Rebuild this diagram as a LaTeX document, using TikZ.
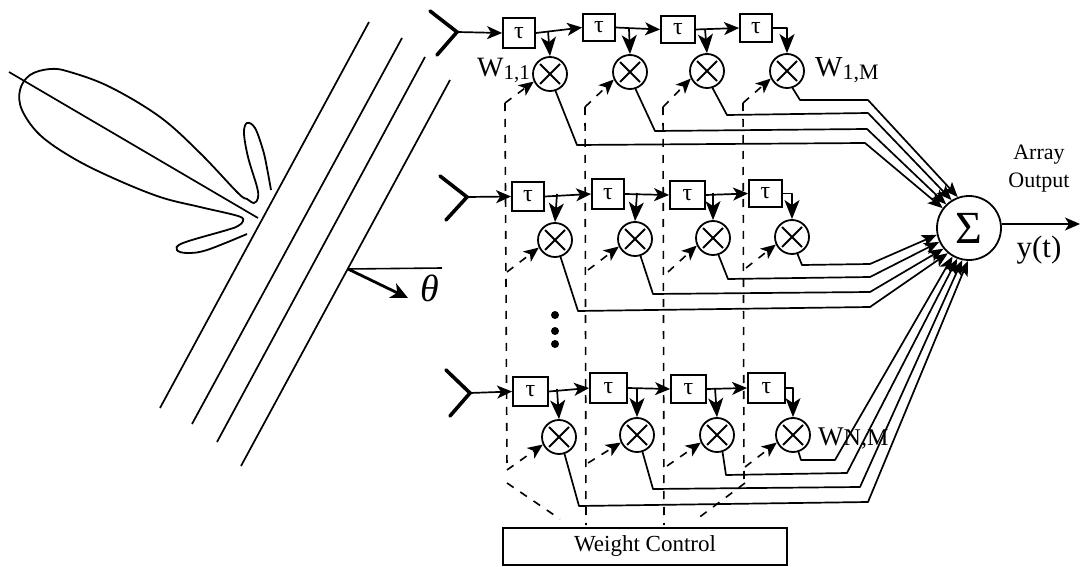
\documentclass[tikz,border=0pt]{standalone}
\usepackage{fontspec}
\setmainfont{Liberation Serif}
\usetikzlibrary{arrows.meta}
\newcommand{\fs}[1]{\fontsize{#1}{#1}\selectfont}
\tikzset{
  x=1pt,y=-1pt,
  wire/.style={line width=1.7pt,line join=round},
  sig/.style={wire,-{Stealth[length=15pt,width=13pt,inset=4pt]}},
  tap/.style={wire,-{Stealth[length=19pt,width=15pt,inset=5pt]}},
  tosum/.style={wire,-{Stealth[length=15pt,width=12pt,inset=3.5pt]}},
  ctrl/.style={line width=1.6pt,dash pattern=on 8pt off 8pt},
  ctrlarrow/.style={ctrl,-{Stealth[length=15pt,width=13pt,inset=4pt]}},
  delay/.style={draw,line width=1.8pt,fill=white,inner sep=0pt,font=\fs{24}},
  mult/.style={draw,circle,line width=1.8pt,minimum size=34pt,inner sep=0pt,
    path picture={\draw[line width=1.8pt]
      ([shift={(-10pt,-10pt)}]path picture bounding box.center)--([shift={(10pt,10pt)}]path picture bounding box.center)
      ([shift={(-10pt,10pt)}]path picture bounding box.center)--([shift={(10pt,-10pt)}]path picture bounding box.center);}},
  antenna/.style={line width=3.6pt,line cap=round,line join=miter},
  beam/.style={line width=1.7pt},
  lobe/.style={line width=1.8pt},
  lbl/.style={inner sep=0pt,anchor=base west},
}
\begin{document}
\begin{tikzpicture}
\useasboundingbox[fill=white] (0,0) rectangle (1080,567);
% beams
\foreach \n/\a/\b/\c/\d in {1/369/22/160/408,2/402/38/192/424,3/425/57/217/442,4/450/80/241/466}{
  \coordinate (lt\n) at (\a,\b); \coordinate (lb\n) at (\c,\d);
  \draw[beam] (lt\n) -- (lb\n);
}
% lobes
\draw[lobe] plot[smooth,tension=0.6] coordinates {(271,190)(267,168)(263,150)(255,128)(247,123)(244,133)(248,157)(257,187)(258,198)(254,203)(247,199)(238,193)(200,153)(160,117)(110,87)(70,72)(50,69)(30,75)(20,90)(22,110)(40,135)(73,158)(113,178)(160,197)(200,207)(238,216)(243,221)(238,226)(227,230)(183,243)(177,250)(187,253)(207,250)(247,234)};
\coordinate (ax1) at (9,72); \coordinate (ax2) at (258,218);
\draw[beam] (ax1) -- (ax2);
% theta
\coordinate (th0) at (348,269); \coordinate (th1) at (442,268); \coordinate (th2) at (408,298);
\draw[line width=1.6pt] (th0) -- (th1);
\draw[line width=2.8pt,-{Stealth[length=17pt,width=16pt,inset=5pt]}] (th0) -- (th2);
\node[inner sep=0pt] (theta) at (430,288) {\fs{38}\itshape θ};
% antennas
\foreach \n/\tx/\ty/\ax/\ay/\bx/\by in {1/457/32/430/11/437/55,2/467/197/440/176/446/220,3/470/393/446/370/450/416}{
  \coordinate (tip\n) at (\tx,\ty);
  \coordinate (ua\n) at (\ax,\ay);
  \coordinate (la\n) at (\bx,\by);
  \draw[antenna] (ua\n) -- (tip\n) -- (la\n);
}
% delays
\foreach \n/\x/\y/\w/\h in {
  b11/519/33/32/30, b12/599/27.5/32/27, b13/678/29.5/34/27, b14/756/28/32/28,
  b21/528/196.5/32/29, b22/608/194/32/30, b23/687.5/195/35/28, b24/765.5/193.5/33/27,
  b31/530.5/391.5/35/29, b32/608.5/388/37/30, b33/688.5/389/35/28, b34/766.5/388/37/30}{
  \node[delay,minimum width=\w pt,minimum height=\h pt] (\n) at (\x,\y) {τ};
}
% multipliers
\foreach \n/\x/\y in {c11/550/74,c12/630/72,c13/707/71,c14/787/71,
  c21/555/240,c22/635/239,c23/713/238,c24/792/237,
  c31/559/437,c32/637/435,c33/717/435,c34/793/435}{
  \node[mult] (\n) at (\x,\y) {};
}
% sum
\node[draw,circle,line width=1.8pt,minimum size=64pt,inner sep=0pt,fill=white,font=\fs{46}] (sum) at (969,228) {Σ};
% weight control
\node[draw,line width=1.9pt,minimum width=284pt,minimum height=37pt,inner sep=0pt,font=\fs{23}] (wc) at (645,546.5) {Weight Control};
% forward chain
\foreach \r in {1,2,3}{
  \draw[sig] (tip\r) -- (b\r1.west);
  \draw[sig] (b\r1.east) -- (b\r2.west);
  \draw[sig] (b\r2.east) -- (b\r3.west);
  \draw[sig] (b\r3.east) -- (b\r4.west);
  \draw[tap] (b\r4.east) -| (c\r4.north);
}
% taps
\foreach \n/\c/\x/\y in {t11/c11/548/31,t12/c12/629/29,t13/c13/705/29,
  t21/c21/557/194,t22/c22/637/193,t23/c23/713/193,
  t31/c31/557/389,t32/c32/637/388,t33/c33/715/388}{
  \coordinate (\n) at (\x,\y);
  \draw[tap] (\n) -- (\c.north);
}
% outputs
\foreach \c/\ax/\ay/\bx/\by/\ang in {
  c11/577/145/865/143/143, c12/655/131/867/129/134, c13/727/115/868/113/122, c14/800/100/868/100/110,
  c21/578/311/870/307/230, c22/653/294/870/292/219, c23/728/279/870/277/205, c24/802/265/870/264/192,
  c31/579/506/868/502/268, c32/653/489/860/487/258, c33/726/475/847/473/249, c34/801/460/835/460/240}{
  \coordinate (k\c) at (\ax,\ay); \coordinate (m\c) at (\bx,\by);
  \draw[tosum] (\c.-72) -- (k\c) -- (m\c) -- (sum.\ang);
}
% control verticals
\foreach \n/\a/\b/\c/\d in {1/505/103/507/470,2/585/107/586/525,3/663/107/664/525,4/743/103/744/487}{
  \coordinate (vt\n) at (\a,\b); \coordinate (vb\n) at (\c,\d);
  \draw[ctrl] (vt\n) -- (vb\n);
}
\foreach \n/\c/\x/\y in {r21/c21/507/272,r22/c22/588/270,r23/c23/668/272,r24/c24/746/268,
  r31/c31/507/470,r32/c32/588/463,r33/c33/667/466,r34/c34/745/467}{
  \coordinate (\n) at (\x,\y);
  \draw[ctrlarrow] (\n) -- (\c.205);
}
\draw[ctrlarrow] (vt1) -- (c11.205);
\draw[ctrlarrow] (vt2) -- (c12.205);
\draw[ctrlarrow] (vt3) -- (c13.205);
\draw[ctrlarrow] (vt4) -- (c14.205);
% control fan-in
\coordinate (f1) at (507,483); \coordinate (f2) at (560,519);
\coordinate (f3) at (745,483); \coordinate (f4) at (697,519);
\draw[ctrl] (f1) -- (f2);
\draw[ctrl] (f3) -- (f4);
% output
\coordinate (yout) at (1080,224);
\draw[sig] (sum.east |- yout) -- (yout);
\node[inner sep=0pt,font=\fs{22},align=center] (arr) at (1039,155) {Array};
\node[inner sep=0pt,font=\fs{22},align=center] (out) at (1039,183) {Output};
\node[inner sep=0pt,font=\fs{31}] (yt) at (1039,250) {y(t)};
% dots
\foreach \n/\y in {d1/315,d2/331,d3/344}{
  \node[circle,fill=black,inner sep=0pt,minimum size=8pt] (\n) at (555,\y) {};
}
% weight labels
\node[lbl] (w11) at (477,77) {\fs{28}W\raisebox{-3pt}{\fs{21}1,1}};
\node[lbl] (w1m) at (815,77) {\fs{29}W\raisebox{-3pt}{\fs{22}1,M}};
\node[lbl] (wnm) at (818,445) {\fs{27}W\fs{24}N,M};
\end{tikzpicture}
\end{document}
